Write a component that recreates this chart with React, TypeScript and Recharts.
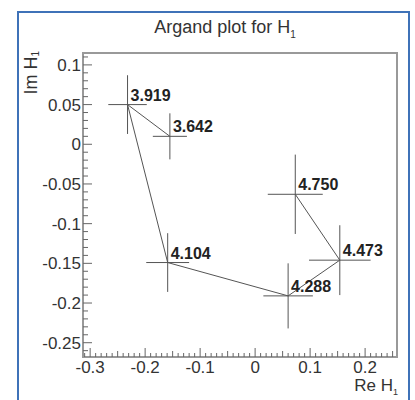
import {
  ScatterChart,
  Scatter,
  XAxis,
  YAxis,
  ErrorBar,
  ReferenceArea,
} from "recharts";

// resonance masses (GeV) labelling each point, ordered along the curve
const massLabels = ["3.642", "3.919", "4.104", "4.288", "4.473", "4.750"];
const reH1 = [-0.155, -0.232, -0.159, 0.06, 0.154, 0.073];
const imH1 = [0.01, 0.05, -0.149, -0.191, -0.146, -0.063];
const reErr = [0.031, 0.035, 0.039, 0.045, 0.056, 0.05];
const imErr = [0.029, 0.037, 0.037, 0.041, 0.044, 0.05];

const xMajorTicks = [-0.3, -0.2, -0.1, 0, 0.1, 0.2];
const yMajorTicks = [0.1, 0.05, 0, -0.05, -0.1, -0.15, -0.2, -0.25];

const X_DOMAIN: [number, number] = [-0.313, 0.258];
const Y_DOMAIN: [number, number] = [-0.268, 0.115];

const points = massLabels.map((label, i) => ({
  label,
  x: reH1[i],
  y: imH1[i],
  ex: reErr[i],
  ey: imErr[i],
}));

// minor tick positions every 0.01 inside the frame
const minorTicks = (lo: number, hi: number) => {
  const out: number[] = [];
  for (let i = Math.ceil(lo * 100); i <= Math.floor(hi * 100); i++) {
    out.push(i / 100);
  }
  return out;
};
const xTicks = minorTicks(X_DOMAIN[0], X_DOMAIN[1]);
const yTicks = minorTicks(Y_DOMAIN[0], Y_DOMAIN[1]);

const isMultiple = (v: number, step: number) =>
  Math.abs(v / step - Math.round(v / step)) < 1e-6;

const fmt = (v: number) => {
  const r = Math.round(v * 100) / 100;
  return r === 0 ? "0" : String(r);
};

const TEXT = "#333";
const AXIS = "#666";
const FONT = "'Liberation Sans', Arial, sans-serif";

function XTick(props: any) {
  const { x, y, payload } = props;
  const v = payload.value;
  const major = xMajorTicks.some((t) => Math.abs(t - v) < 1e-6);
  const half = !major && isMultiple(v, 0.05);
  const len = major ? 9 : half ? 6 : 4;
  return (
    <g>
      <line x1={x} x2={x} y1={y} y2={y - len} stroke={AXIS} />
      {major && (
        <text
          x={x}
          y={y + 16}
          textAnchor="middle"
          fontSize={17}
          fontFamily={FONT}
          fill={TEXT}
        >
          {fmt(v)}
        </text>
      )}
    </g>
  );
}

function YTick(props: any) {
  const { x, y, payload } = props;
  const v = payload.value;
  const major = yMajorTicks.some((t) => Math.abs(t - v) < 1e-6);
  const len = major ? 9 : 5;
  return (
    <g>
      <line x1={x} x2={x + len} y1={y} y2={y} stroke={AXIS} />
      {major && (
        <text
          x={x - 2}
          y={y + 6}
          textAnchor="end"
          fontSize={17}
          fontFamily={FONT}
          fill={TEXT}
        >
          {fmt(v)}
        </text>
      )}
    </g>
  );
}

function MassLabel(props: any) {
  const { cx, cy, payload } = props;
  return (
    <text
      x={cx + 3}
      y={cy - 4}
      fontSize={16}
      fontWeight="bold"
      fontFamily={FONT}
      fill="#222"
    >
      {payload.label}
    </text>
  );
}

export default function App() {
  return (
    <div
      style={{
        position: "absolute",
        left: 0,
        top: 0,
        width: 415,
        height: 400,
        overflow: "hidden",
        background: "#fff",
      }}
    >
      <div
        style={{
          position: "absolute",
          left: 17,
          top: 11,
          width: 389,
          height: 400,
          border: "2px solid #3f72b8",
        }}
      />
      <div
        style={{
          position: "absolute",
          left: 0,
          top: 17,
          width: 450,
          textAlign: "center",
          fontFamily: FONT,
          fontSize: 18,
          color: TEXT,
        }}
      >
        Argand plot for H<sub style={{ fontSize: 10 }}>1</sub>
      </div>
      <div
        style={{
          position: "absolute",
          right: 17,
          top: 376,
          fontFamily: FONT,
          fontSize: 17,
          color: TEXT,
        }}
      >
        Re H<sub style={{ fontSize: 9 }}>1</sub>
      </div>
      <div
        style={{
          position: "absolute",
          left: 21,
          top: 51,
          writingMode: "vertical-rl",
          transform: "rotate(180deg)",
          fontFamily: FONT,
          fontSize: 18,
          color: TEXT,
        }}
      >
        Im H<sub style={{ fontSize: 10 }}>1</sub>
      </div>
      <ScatterChart
        width={415}
        height={400}
        margin={{ top: 53, right: 18, bottom: 0, left: 0 }}
        style={{ position: "absolute", left: 0, top: 0 }}
      >
        <XAxis
          type="number"
          dataKey="x"
          domain={X_DOMAIN}
          allowDataOverflow
          ticks={xTicks}
          interval={0}
          tickSize={0}
          tickMargin={0}
          axisLine={false}
          tickLine={false}
          tick={<XTick />}
          height={43}
        />
        <YAxis
          type="number"
          dataKey="y"
          domain={Y_DOMAIN}
          allowDataOverflow
          ticks={yTicks}
          interval={0}
          tickSize={0}
          tickMargin={0}
          axisLine={false}
          tickLine={false}
          tick={<YTick />}
          width={83}
        />
        <ReferenceArea
          x1={X_DOMAIN[0]}
          x2={X_DOMAIN[1]}
          y1={Y_DOMAIN[0]}
          y2={Y_DOMAIN[1]}
          fill="none"
          stroke="#999"
          strokeWidth={2}
          fillOpacity={0}
          strokeOpacity={1}
        />
        <Scatter
          data={points}
          line={{ stroke: "#555", strokeWidth: 1 }}
          shape={<MassLabel />}
          isAnimationActive={false}
        >
          <ErrorBar
            dataKey="ex"
            direction="x"
            width={0}
            stroke="#555"
            strokeWidth={1}
            isAnimationActive={false}
          />
          <ErrorBar
            dataKey="ey"
            direction="y"
            width={0}
            stroke="#555"
            strokeWidth={1}
            isAnimationActive={false}
          />
        </Scatter>
      </ScatterChart>
    </div>
  );
}
